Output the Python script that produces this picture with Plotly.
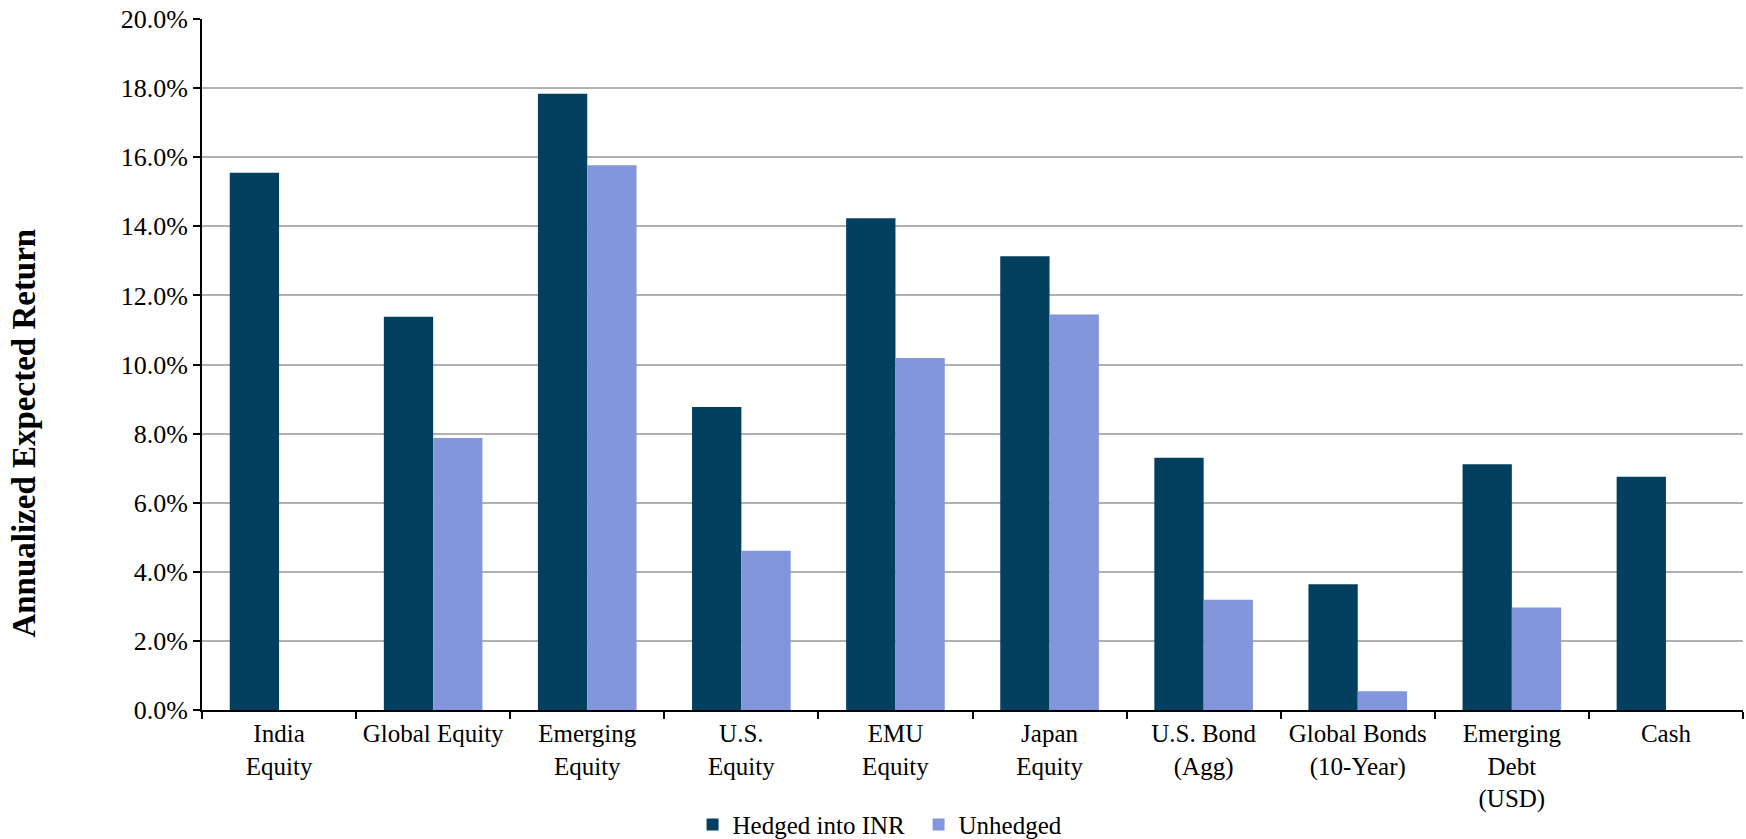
import plotly.graph_objects as go

categories = ["India<br>Equity", "Global Equity", "Emerging<br>Equity", "U.S.<br>Equity",
              "EMU<br>Equity", "Japan<br>Equity", "U.S. Bond<br>(Agg)",
              "Global Bonds<br>(10-Year)", "Emerging<br>Debt<br>(USD)", "Cash"]
hedged = [15.55, 11.38, 17.84, 8.77, 14.23, 13.13, 7.30, 3.64, 7.11, 6.75]
unhedged = [None, 7.87, 15.77, 4.61, 10.19, 11.45, 3.19, 0.54, 2.97, None]
y_ticks = [0, 2, 4, 6, 8, 10, 12, 14, 16, 18, 20]
y_tick_labels = ["%.1f%%" % v for v in y_ticks]

FONT = "Liberation Serif"

fig = go.Figure()
fig.add_trace(go.Bar(x=categories, y=hedged, name="Hedged into INR",
                     marker=dict(color="#03405F", line=dict(width=0))))
fig.add_trace(go.Bar(x=categories, y=unhedged, name="Unhedged",
                     marker=dict(color="#8496DB", line=dict(width=0))))

fig.update_layout(
    width=1746, height=839,
    margin=dict(l=202, r=3, t=19, b=129, autoexpand=False),
    paper_bgcolor="white", plot_bgcolor="white",
    barmode="group", bargap=0.36, bargroupgap=0,
    font=dict(family=FONT, size=25, color="black"),
    showlegend=True,
    legend=dict(orientation="h", x=0.465, xanchor="center", y=-0.166, yanchor="middle",
                font=dict(size=25, family=FONT), itemwidth=30, traceorder="normal",
                entrywidth=181, entrywidthmode="pixels"),
    xaxis=dict(type="category", showline=True, linecolor="black", linewidth=2,
               ticks="outside", tickson="boundaries", ticklen=7, tickwidth=2, tickcolor="black",
               showgrid=False, automargin=False, tickfont=dict(size=25, family=FONT)),
    yaxis=dict(range=[0, 20], tickvals=y_ticks, ticktext=y_tick_labels,
               showline=True, linecolor="black", linewidth=2,
               ticks="outside", ticklen=7, tickwidth=2, tickcolor="black",
               showgrid=True, gridcolor="#B0B0B0", gridwidth=2, zeroline=False,
               automargin=False, tickfont=dict(size=26, family=FONT)),
    annotations=[dict(text="<b>Annualized Expected Return</b>", textangle=-90,
                      xref="paper", yref="paper", x=-0.1155, y=0.40,
                      xanchor="center", yanchor="middle", showarrow=False,
                      font=dict(size=33, family=FONT, color="black"))],
)

fig.write_html("out.html")
